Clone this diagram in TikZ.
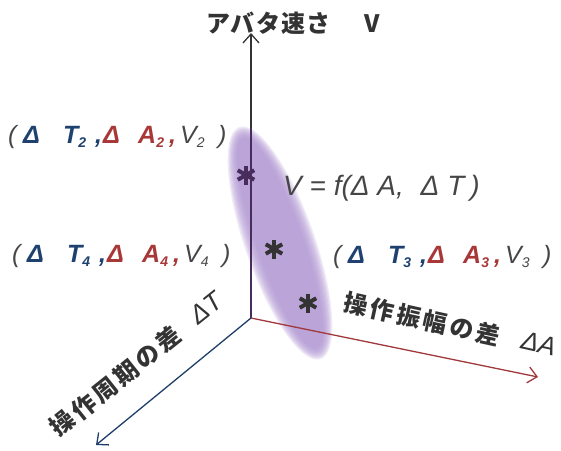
\documentclass[tikz,border=0pt]{standalone}
\usepackage{fontspec}
\setmainfont{Liberation Sans}
\newfontfamily\jp{Noto Sans CJK JP}[LetterSpace=6]
\newfontfamily\jpsp{Noto Sans CJK JP}[LetterSpace=13]
\usetikzlibrary{arrows.meta}
\definecolor{axblue}{RGB}{31,62,106}
\definecolor{axred}{RGB}{160,56,60}
\definecolor{axdark}{RGB}{51,51,51}
\definecolor{axpurp}{RGB}{72,44,92}
\definecolor{txgray}{RGB}{70,70,70}
\definecolor{tblue}{RGB}{30,65,112}
\definecolor{tred}{RGB}{168,56,56}
\definecolor{lav}{RGB}{176,150,210}
\newcommand\sbs[1]{\raisebox{-4pt}{\fontsize{14}{14}\selectfont #1}}
\newcommand\trip[1]{%
 \makebox[15pt][l]{\color{txgray}(}%
 \makebox[40pt][l]{\color{tblue}\bfseries Δ}%
 \makebox[32pt][l]{\color{tblue}\bfseries T\sbs{#1}}%
 \makebox[8pt][l]{\color{tblue}\bfseries ,}%
 \makebox[35pt][l]{\color{tred}\bfseries Δ}%
 \makebox[31pt][l]{\color{tred}\bfseries A\sbs{#1}}%
 \makebox[11pt][l]{\color{tred}\bfseries ,}%
 \makebox[38pt][l]{\color{txgray}V\sbs{#1}}%
 {\color{txgray})}}
\tikzset{
 axis/.style={line width=1.3pt, -{Straight Barb[length=9pt,width=16pt,line width=1.3pt]}},
 triplbl/.style={inner sep=0pt, anchor=base west, font=\fontsize{25}{28}\selectfont\itshape},
 axlbl/.style={inner sep=0pt, anchor=west, text=axdark, font=\fontsize{24}{28}\selectfont\jpsp\bfseries},
 ast/.style={minimum size=22pt, inner sep=0pt,
   path picture={\foreach \a in {90,30,150}{\draw[#1, line width=4pt] (path picture bounding box.center) ++(\a:9.5pt) -- ++(\a+180:19pt);}}}
}
\begin{document}
\begin{tikzpicture}[x=1pt,y=-1pt]
\useasboundingbox (0,0) rectangle (561,450);
% cloud
\foreach \i in {0,...,9}{
  \fill[lav, fill opacity=0.18, rotate around={-70.7:(280,243)}]
    (280,243) ellipse [x radius={123pt-1.3pt*\i}, y radius={35pt-1.3pt*\i}];
}
% axes
\coordinate (O) at (251,318);
\coordinate (vtop) at (251,33);
\coordinate (vin) at (251,128);
\coordinate (aend) at (538,377);
\coordinate (tend) at (96,445);
\draw[axis, axdark] (O) -- (vtop);
\draw[line width=1.3pt, axpurp] (O) -- (vin);
\draw[axis, axred] (O) -- (aend);
\draw[axis, axblue] (O) -- (tend);
% points
\node[ast=axpurp] (p2) at (246,175) {};
\node[ast=axdark] (p4) at (274,249) {};
\node[ast=axdark] (p3) at (308,303) {};
% title
\node[inner sep=0pt, anchor=west, text=axdark, font=\fontsize{24}{28}\selectfont\jp\bfseries] (title) at (206,23) {アバタ速さ\hspace{34pt}V};
% function
\node[inner sep=0pt, anchor=base west, text=txgray, font=\fontsize{28}{32}\selectfont\itshape] (fn) at (283,195) {V = f(Δ A,\hspace{9pt} Δ T\hspace{6pt})};
% triples
\node[triplbl] (l2) at (8,143) {\trip{2}};
\node[triplbl] (l4) at (12,262) {\trip{4}};
\node[triplbl] (l3) at (333,263) {\trip{3}};
% axis labels
\node[axlbl, rotate=-12.4] (alab) at (344,302) {操作振幅の差\hspace{22pt}\raisebox{1pt}{\fontsize{26}{30}\selectfont\mdseries\rmfamily\itshape ΔA}};
\node[axlbl, rotate=38.6] (tlab) at (53,431) {操作周期の差\hspace{20pt}\raisebox{1pt}{\fontsize{26}{30}\selectfont\mdseries\rmfamily\itshape ΔT}};
\end{tikzpicture}
\end{document}
